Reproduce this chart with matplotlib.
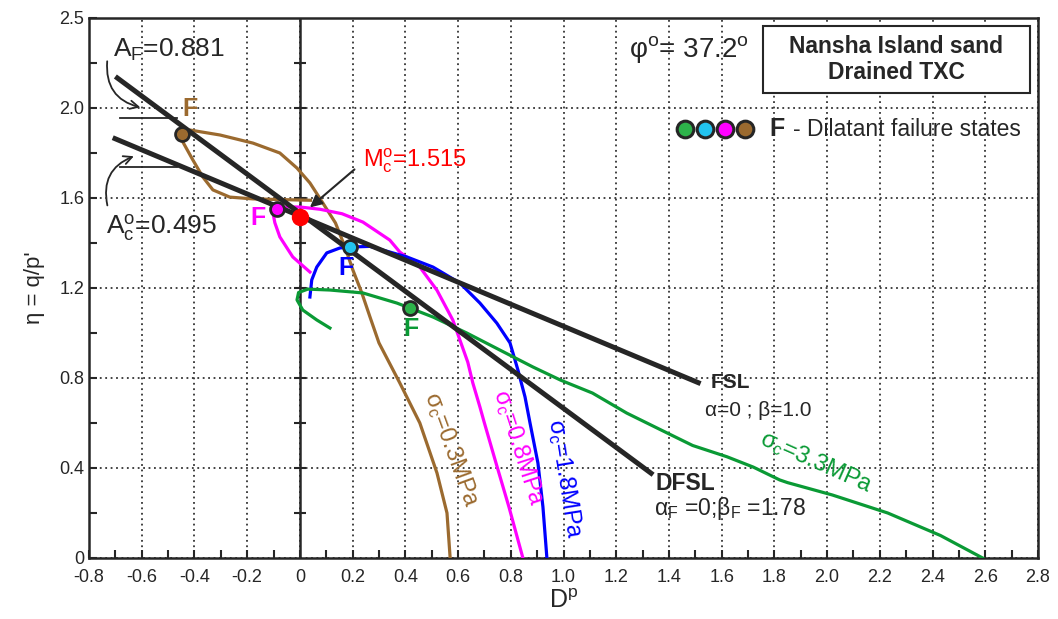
import matplotlib
matplotlib.use("Agg")
import matplotlib.pyplot as plt
import numpy as np
from matplotlib import font_manager
from matplotlib.patches import FancyArrowPatch, Rectangle
from matplotlib.ticker import MultipleLocator

##fonts
names = set(f.name for f in font_manager.fontManager.ttflist)
sans = "Liberation Sans" if "Liberation Sans" in names else "DejaVu Sans"
narrow = "Liberation Sans Narrow" if "Liberation Sans Narrow" in names else sans
plt.rcParams["font.family"] = [sans, "DejaVu Sans"]
plt.rcParams["mathtext.fontset"] = "custom"
plt.rcParams["mathtext.rm"] = sans
plt.rcParams["mathtext.it"] = sans + ":italic"
plt.rcParams["mathtext.bf"] = sans + ":bold"

##stress-dilatancy paths, D^p vs eta
brown_x = [0.57, 0.558, 0.52, 0.455, 0.379, 0.30, 0.266, 0.235, 0.201, 0.171, 0.135, 0.087, 0.038,
           -0.011, -0.076, -0.178, -0.303, -0.417, -0.448, -0.444, -0.406, -0.368, -0.33, -0.266,
           -0.178, 0.0, 0.04]
brown_y = [0.0, 0.20, 0.378, 0.60, 0.778, 0.956, 1.071, 1.178, 1.28, 1.382, 1.489, 1.578, 1.667,
           1.733, 1.80, 1.844, 1.88, 1.902, 1.885, 1.849, 1.769, 1.693, 1.636, 1.604,
           1.596, 1.591, 1.59]

magenta_x = [0.846, 0.793, 0.744, 0.70, 0.683, 0.656, 0.637, 0.607, 0.58, 0.52, 0.455, 0.379, 0.341,
             0.239, 0.16, 0.076, 0.0, -0.05, -0.087, -0.102, -0.095, -0.076, -0.027, 0.038]
magenta_y = [0.0, 0.227, 0.422, 0.60, 0.671, 0.778, 0.87, 0.969, 1.058, 1.19, 1.293, 1.36, 1.413,
             1.493, 1.53, 1.55, 1.56, 1.56, 1.551, 1.533, 1.49, 1.427, 1.338, 1.271]

blue_x = [0.937, 0.922, 0.903, 0.873, 0.854, 0.827, 0.797, 0.747, 0.683, 0.607, 0.505, 0.406, 0.266,
          0.19, 0.152, 0.102, 0.064, 0.045, 0.038]
blue_y = [0.0, 0.227, 0.422, 0.60, 0.716, 0.836, 0.956, 1.044, 1.133, 1.222, 1.293, 1.338, 1.385,
          1.382, 1.378, 1.356, 1.293, 1.236, 1.16]

green_x = [2.59, 2.43, 2.23, 2.02, 1.85, 1.82, 1.72, 1.62, 1.49, 1.37, 1.24, 1.11, 0.99, 0.884,
           0.759, 0.633, 0.505, 0.417, 0.368, 0.239, 0.114, 0.03, -0.005, -0.011, 0.011, 0.064, 0.114]
green_y = [0.0, 0.10, 0.20, 0.28, 0.335, 0.347, 0.404, 0.45, 0.50, 0.569, 0.644, 0.733, 0.79, 0.849,
           0.924, 1.0, 1.071, 1.111, 1.133, 1.178, 1.191, 1.195, 1.18, 1.147, 1.102, 1.058, 1.022]

##failure states F
fail_x = [0.417, 0.19, -0.087, -0.448]
fail_y = [1.111, 1.382, 1.551, 1.885]
fail_colors = ["#2db34a", "#22c4f0", "#ff00ff", "#9b6a2f"]

##FSL and DFSL end points
fsl_x = [-0.71, 1.52]
fsl_y = [1.868, 0.775]
dfsl_x = [-0.70, 1.34]
dfsl_y = [2.14, 0.37]

mc_x, mc_y = 0.0, 1.515

xticks = np.arange(-0.8, 2.81, 0.2)
xticklabels = ["-0.8", "-0.6", "-0.4", "-0.2", "0", "0.2", "0.4", "0.6", "0.8", "1.0", "1.2",
               "1.4", "1.6", "1.8", "2.0", "2.2", "2.4", "2.6", "2.8"]
yticks = [0, 0.4, 0.8, 1.2, 1.6, 2.0, 2.4]
yticklabels = ["0", "0.4", "0.8", "1.2", "1.6", "2.0", "2.5"]

BROWN = "#9b6a2f"
GREEN = "#0a9a35"
DARK = "#262626"

fig = plt.figure(figsize=(10.58, 6.19), dpi=100)
ax = fig.add_axes([89 / 1058, 61 / 619, 949 / 1058, 540 / 619])
ax.set_xlim(-0.8, 2.8)
ax.set_ylim(0, 2.4)

ax.set_xticks(xticks)
ax.set_xticklabels(xticklabels, fontfamily=narrow, fontsize=13)
ax.set_yticks(yticks)
ax.set_yticklabels(yticklabels, fontsize=13)
ax.xaxis.set_minor_locator(MultipleLocator(0.1))
ax.yaxis.set_minor_locator(MultipleLocator(0.2))
ax.tick_params(which="both", direction="in", length=6, width=1.5, color=DARK, labelcolor=DARK)
ax.tick_params(axis="x", pad=8)
ax.grid(True, which="major", ls=(0, (1, 2)), color="#333333", lw=1.3)
for s in ax.spines.values():
    s.set_linewidth(1.8)
    s.set_color(DARK)

##vertical axis at D^p = 0 with crossing ticks
ax.axvline(0, color=DARK, lw=1.8, zorder=2)
ax.plot(np.zeros(11), np.arange(1, 12) * 0.2, ls="none", marker="_", ms=8, mew=1.5, color=DARK, zorder=2)

for px, py, c in [(brown_x, brown_y, BROWN), (magenta_x, magenta_y, "#ff00ff"),
                  (blue_x, blue_y, "#0000ff"), (green_x, green_y, GREEN)]:
    ax.plot(px, py, color=c, lw=2.3, solid_joinstyle="round", zorder=3)

ax.plot(fsl_x, fsl_y, color=DARK, lw=3.6, solid_capstyle="butt", zorder=4)
ax.plot(dfsl_x, dfsl_y, color=DARK, lw=3.6, solid_capstyle="butt", zorder=4)

for fx, fy, c in zip(fail_x, fail_y, fail_colors):
    ax.plot(fx, fy, "o", ms=10, mfc=c, mec=DARK, mew=2, zorder=6)
ax.plot(mc_x, mc_y, "o", ms=11.5, color="#ff0000", zorder=6)

##F labels
fkw = dict(fontsize=18, fontweight="bold", ha="center", va="center")
ax.text(0.42, 1.02, "F", color=GREEN, **fkw)
ax.text(0.175, 1.29, "F", color="#0000ff", **fkw)
ax.text(-0.16, 1.51, "F", color="#ff00ff", **fkw)
ax.text(-0.415, 1.995, "F", color=BROWN, **fkw)

##M_c annotation
ax.annotate("", xy=(0.03, 1.55), xytext=(0.215, 1.735),
            arrowprops=dict(arrowstyle="-|>", color=DARK, lw=1.5, mutation_scale=18), zorder=5)
ax.text(0.239, 1.765, r"M$_\mathrm{c}^\mathrm{o}$=1.515", color="#ff0000", fontsize=17, va="center")

##A_F and A_c annotations
ax.text(-0.71, 2.26, r"A$_\mathrm{F}$=0.881", color=DARK, fontsize=19, va="center")
ax.text(-0.735, 1.47, r"A$_\mathrm{c}^\mathrm{o}$=0.495", color=DARK, fontsize=19, va="center")
ax.plot([-0.683, -0.467], [1.956, 1.956], color=DARK, lw=1.3)
ax.plot([-0.683, -0.467], [1.738, 1.738], color=DARK, lw=1.3)
ax.add_patch(FancyArrowPatch((-0.73, 2.22), (-0.595, 2.0), connectionstyle="arc3,rad=0.45",
                             arrowstyle="->", mutation_scale=15, color=DARK, lw=1.3))
ax.add_patch(FancyArrowPatch((-0.728, 1.555), (-0.62, 1.79), connectionstyle="arc3,rad=-0.45",
                             arrowstyle="->", mutation_scale=15, color=DARK, lw=1.3))

##friction angle and title box
ax.text(1.476, 2.258, r"φ$^\mathrm{o}$= 37.2$^\mathrm{o}$", color=DARK, fontsize=20,
        ha="center", va="center")
ax.add_patch(Rectangle((1.756, 2.067), 1.013, 0.297, fc="white", ec=DARK, lw=1.5, zorder=5))
ax.text(2.263, 2.215, "Nansha Island sand\nDrained TXC", color=DARK, fontsize=16.5,
        fontweight="bold", ha="center", va="center", linespacing=1.2, zorder=6)

##legend for failure states
for i, c in enumerate(fail_colors):
    ax.plot(1.46 + 0.076 * i, 1.907, "o", ms=12, mfc=c, mec=DARK, mew=2.2)
ax.text(1.78, 1.905, "F", color=DARK, fontsize=18, fontweight="bold", va="center")
ax.text(1.87, 1.905, "- Dilatant failure states", color=DARK, fontsize=16.5, va="center")

##FSL / DFSL labels
ax.text(1.56, 0.778, "FSL", color=DARK, fontsize=15, fontweight="bold", va="center")
ax.text(1.535, 0.655, "α=0 ; β=1.0", color=DARK, fontsize=15, va="center")
ax.text(1.35, 0.333, "DFSL", color=DARK, fontsize=16.5, fontweight="bold", va="center")
ax.text(1.345, 0.22, r"α$_\mathrm{F}$ =0;β$_\mathrm{F}$ =1.78", color=DARK, fontsize=16.5, va="center")

##path labels
lkw = dict(fontsize=17, ha="center", va="center", rotation_mode="anchor")
ax.text(0.575, 0.48, r"σ$_\mathrm{c}$=0.3MPa", color=BROWN, rotation=-70, **lkw)
ax.text(0.83, 0.49, r"σ$_\mathrm{c}$=0.8MPa", color="#ff00ff", rotation=-72, **lkw)
ax.text(1.005, 0.35, r"σ$_\mathrm{c}$=1.8MPa", color="#0000ff", rotation=-81, **lkw)
ax.text(1.96, 0.425, r"σ$_\mathrm{c}$=3.3MPa", color=GREEN, rotation=-24, **lkw)

ax.set_xlabel(r"D$^\mathrm{p}$", fontsize=18, color=DARK, labelpad=2)
ax.set_ylabel("η = q/p'", fontsize=16, color=DARK, labelpad=10)

fig.savefig("out.png", dpi=100)
